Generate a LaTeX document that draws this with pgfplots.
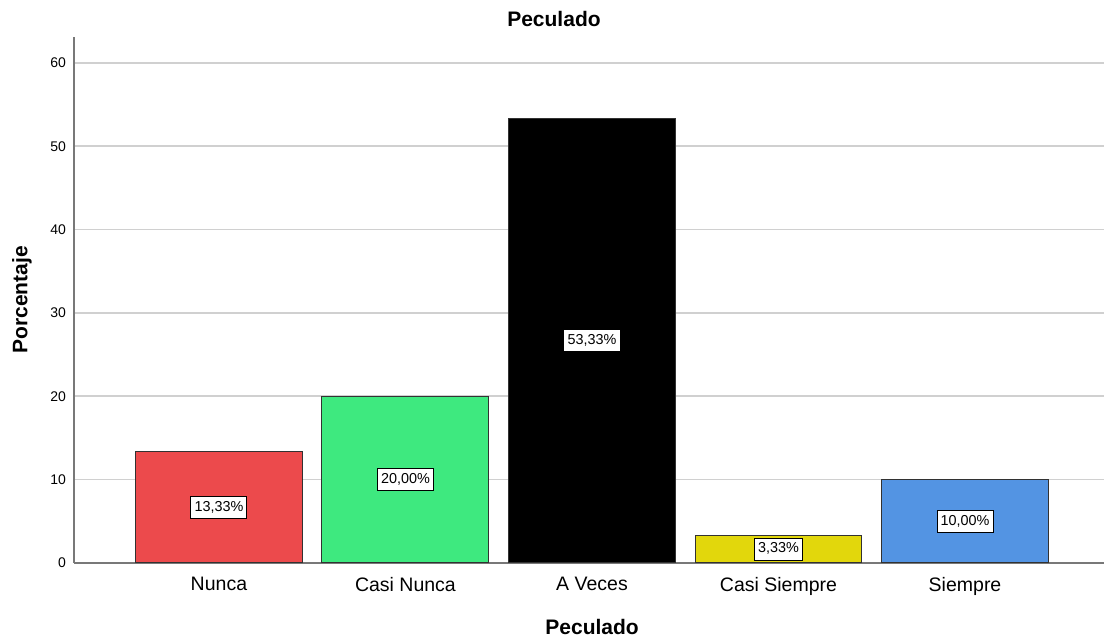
\documentclass[border=0pt]{standalone}
\usepackage{pgfplots}
\pgfplotsset{compat=1.18}
\usepackage{fontspec}
\setmainfont{Liberation Sans}

\definecolor{cNunca}{RGB}{236,74,76}
\definecolor{cCasiNunca}{RGB}{62,233,127}
\definecolor{cAVeces}{RGB}{0,0,0}
\definecolor{cCasiSiempre}{RGB}{226,215,12}
\definecolor{cSiempre}{RGB}{83,148,227}
\definecolor{gridc}{RGB}{208,208,208}
\definecolor{axisc}{RGB}{120,120,120}
\definecolor{edgec}{RGB}{50,50,50}

\begin{document}
\begin{tikzpicture}
\useasboundingbox (0,0) rectangle (552pt,320pt);
\begin{axis}[
  at={(37pt,38.5pt)}, anchor=south west,
  scale only axis, width=515pt, height=263pt,
  ybar, bar width=0.895, bar shift=0pt,
  xmin=-0.777, xmax=4.745,
  ymin=0, ymax=63.1,
  xtick={0,1,2,3,4},
  xticklabels={Nunca,Casi Nunca,A Veces,Casi Siempre,Siempre},
  ytick={0,10,20,30,40,50,60},
  major tick length=0pt,
  axis lines*=left,
  axis line style={draw=axisc, line width=1pt},
  ymajorgrids, grid style={draw=gridc, line width=0.8pt},
  /pgf/number format/assume math mode=true,
  yticklabel style={font=\fontsize{7}{8}\selectfont, xshift=-0.5pt},
  xticklabel style={font=\fontsize{9.75}{11}\selectfont, yshift=-3.5pt},
  title={Peculado},
  title style={font=\fontsize{10.5}{12}\bfseries, at={(axis description cs:0.466,1.011)}, anchor=center},
  xlabel={Peculado},
  xlabel style={font=\fontsize{10.5}{12}\bfseries, at={(axis description cs:0.503,-0.1217)}, anchor=center},
  ylabel={Porcentaje},
  ylabel style={font=\fontsize{10.5}{12}\bfseries, at={(axis description cs:-0.0505,0.5)}, anchor=center, rotate=0},
  clip=false,
  every axis plot/.append style={draw=edgec, line width=0.5pt},
  visualization depends on=rawy \as \rawy,
  nodes near coords={\pgfmathprintnumber[fixed,fixed zerofill,precision=2,use comma]{\pgfplotspointmeta}\%},
  every node near coord/.append style={
    font=\fontsize{7.2}{8}\selectfont, text=black,
    fill=white, draw=black, line width=0.5pt,
    inner xsep=1.8pt, inner ysep=2.2pt,
    text height=5.2pt, text depth=1.5pt,
    anchor=center, yshift={-\rawy*2.084pt}},
]
\addplot[fill=cNunca] coordinates {(0,13.33)};
\addplot[fill=cCasiNunca] coordinates {(1,20.00)};
\addplot[fill=cAVeces] coordinates {(2,53.33)};
\addplot[fill=cCasiSiempre] coordinates {(3,3.33)};
\addplot[fill=cSiempre] coordinates {(4,10.00)};
\end{axis}
\end{tikzpicture}
\end{document}
